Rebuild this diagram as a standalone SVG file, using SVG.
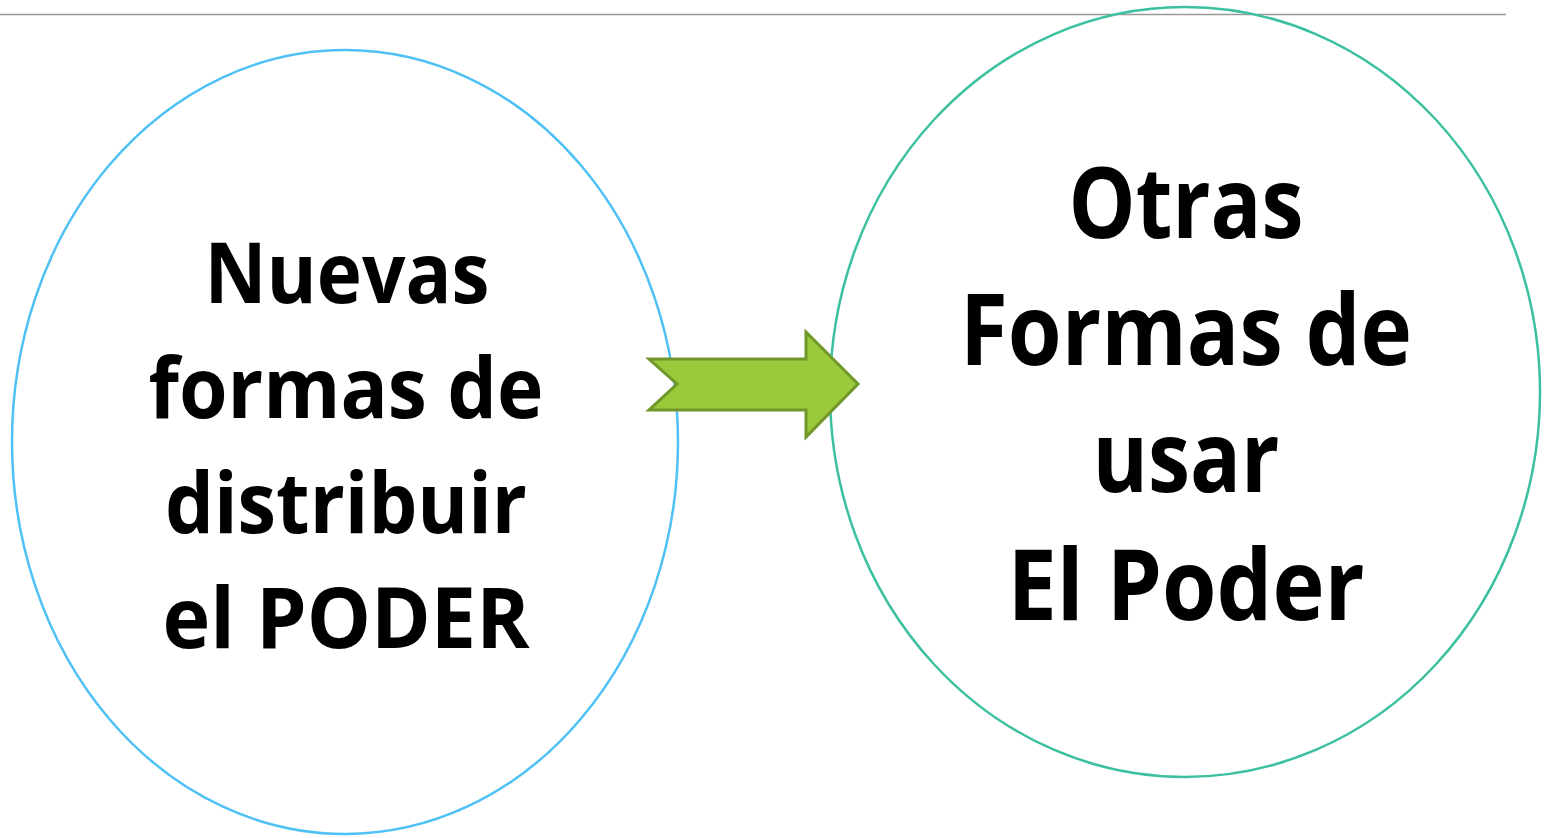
<svg xmlns="http://www.w3.org/2000/svg" width="1548" height="838" viewBox="0 0 1548 838">
<style>
.t{font-family:"Open Sans","Liberation Sans",sans-serif;font-weight:bold;fill:#000;text-anchor:middle}
.l{font-size:84px}
.r{font-size:98px}
</style>
<rect width="1548" height="838" fill="#fff"/>
<line x1="0" y1="14.5" x2="1506" y2="14.5" stroke="#999" stroke-width="1.5"/>
<g id="node-left">
<ellipse cx="345" cy="442" rx="333" ry="392" fill="none" stroke="#4FC1F5" stroke-width="2.5"/>
<text class="t l" x="347" y="303" textLength="285" lengthAdjust="spacingAndGlyphs">Nuevas</text>
<text class="t l" x="346" y="418" textLength="395" lengthAdjust="spacingAndGlyphs">formas de</text>
<text class="t l" x="346" y="533" textLength="362" lengthAdjust="spacingAndGlyphs">distribuir</text>
<text class="t l" x="346" y="648" textLength="367" lengthAdjust="spacingAndGlyphs">el PODER</text>
</g>
<g id="node-right">
<ellipse cx="1185" cy="392" rx="355" ry="385" fill="none" stroke="#3CC0A0" stroke-width="2.5"/>
<text class="t r" x="1186" y="238" textLength="235" lengthAdjust="spacingAndGlyphs">Otras</text>
<text class="t r" x="1186" y="365" textLength="452" lengthAdjust="spacingAndGlyphs">Formas de</text>
<text class="t r" x="1186" y="492" textLength="187" lengthAdjust="spacingAndGlyphs">usar</text>
<text class="t r" x="1186" y="620" textLength="357" lengthAdjust="spacingAndGlyphs">El Poder</text>
</g>
<g id="connectors">
<polygon points="649,359 806,359 806,332 858,384 806,437 806,410 649,410 677,384" fill="#9ACA3C" stroke="#71962A" stroke-width="3" stroke-linejoin="miter"/>
</g>
</svg>
